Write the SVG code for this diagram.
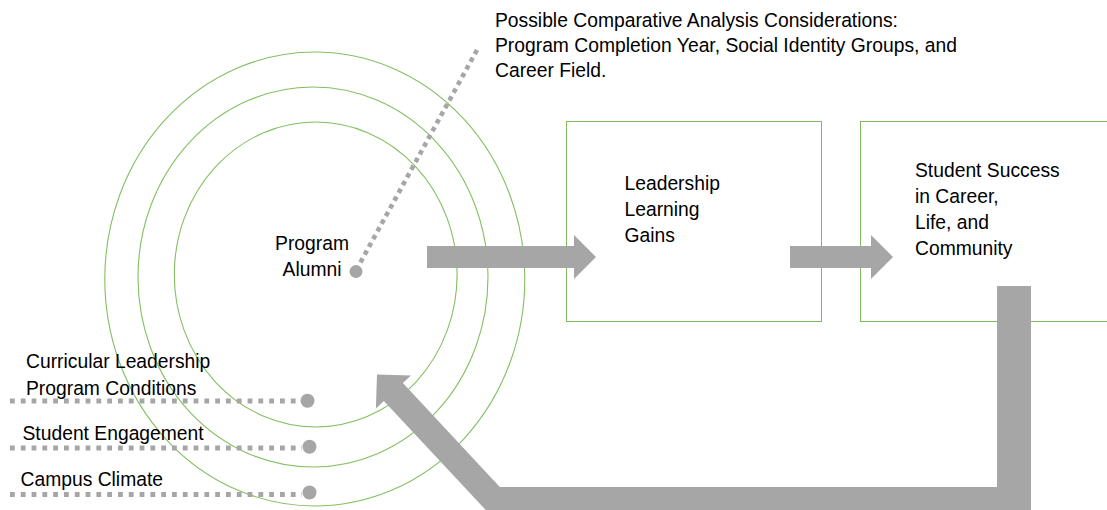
<svg xmlns="http://www.w3.org/2000/svg" width="1107" height="510" viewBox="0 0 1107 510">
  <style>
    .ring { fill: none; stroke: #84bf62; stroke-width: 1.1; }
    .box { fill: #ffffff; stroke: #7fbb5c; stroke-width: 1; }
    .arrow { fill: #a6a6a6; stroke: none; }
    .dots { fill: none; stroke: #a6a6a6; stroke-width: 4.8; stroke-dasharray: 4.8 6; }
    .dotsd { fill: none; stroke: #a6a6a6; stroke-width: 4.6; stroke-dasharray: 4.6 4.2; }
    .end { fill: #a6a6a6; }
    .t { font-family: "Liberation Sans", Arial, sans-serif; font-size: 19.3px; fill: #000000; }
  </style>
  <rect width="1107" height="510" fill="#ffffff"/>

  <g id="rings">
    <ellipse class="ring" cx="314.8" cy="279" rx="210" ry="227"/>
    <ellipse class="ring" cx="313" cy="277" rx="175" ry="190"/>
    <ellipse class="ring" cx="315.7" cy="274.5" rx="141.4" ry="152.5"/>
  </g>

  <g id="box-learning">
    <rect class="box" x="566.5" y="121.5" width="255" height="200"/>
    <text class="t" x="624.5" y="190">Leadership</text>
    <text class="t" x="624.5" y="216">Learning</text>
    <text class="t" x="624.5" y="242">Gains</text>
  </g>

  <g id="box-success">
    <rect class="box" x="860.5" y="121.5" width="260" height="200"/>
    <text class="t" x="915" y="177">Student Success</text>
    <text class="t" x="915" y="203">in Career,</text>
    <text class="t" x="915" y="229">Life, and</text>
    <text class="t" x="915" y="255">Community</text>
  </g>

  <g id="connectors">
    <polygon class="arrow" points="427,246 574,246 574,235 596,257 574,279 574,268 427,268"/>
    <polygon class="arrow" points="790,246 871,246 871,235 893,257 871,279 871,268 790,268"/>
    <polygon class="arrow" points="997,286 1031,286 1031,515 490.4,515 383.9,400.9 375.9,408.4 377,374.5 410.9,375.6 402.9,383.1 499.8,487 997,487"/>
    <line class="dotsd" x1="477" y1="50" x2="359" y2="265"/>
    <line class="dots" x1="10" y1="401" x2="300" y2="401"/>
    <line class="dots" x1="10" y1="448" x2="302" y2="448"/>
    <line class="dots" x1="10" y1="494.5" x2="302" y2="494.5"/>
  </g>

  <g id="node-alumni">
    <circle class="end" cx="356" cy="271.5" r="6.5"/>
    <text class="t" x="312" y="250" text-anchor="middle">Program</text>
    <text class="t" x="312" y="276" text-anchor="middle">Alumni</text>
  </g>

  <g id="note-comparative">
    <text class="t" x="495" y="26.5">Possible Comparative Analysis Considerations:</text>
    <text class="t" x="495" y="51.5">Program Completion Year, Social Identity Groups, and</text>
    <text class="t" x="495" y="76.5">Career Field.</text>
  </g>

  <g id="label-curricular">
    <circle class="end" cx="307.5" cy="400.7" r="7"/>
    <text class="t" x="26" y="368">Curricular Leadership</text>
    <text class="t" x="26" y="394.5">Program Conditions</text>
  </g>

  <g id="label-engagement">
    <circle class="end" cx="309.5" cy="446.7" r="7"/>
    <text class="t" x="22.5" y="440">Student Engagement</text>
  </g>

  <g id="label-climate">
    <circle class="end" cx="309.5" cy="492.5" r="7"/>
    <text class="t" x="20.5" y="486">Campus Climate</text>
  </g>
</svg>
